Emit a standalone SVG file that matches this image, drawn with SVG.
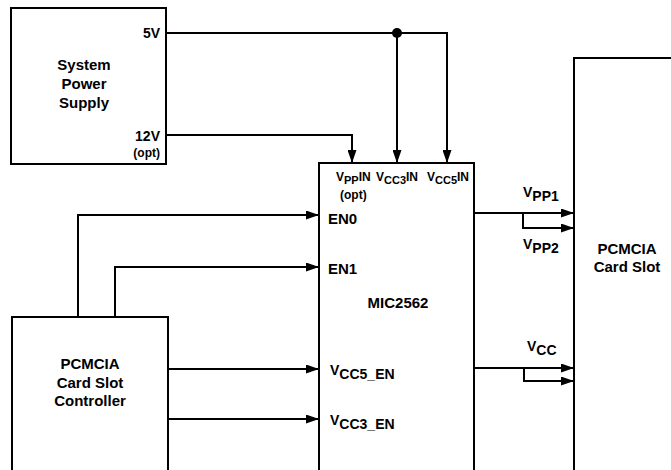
<svg xmlns="http://www.w3.org/2000/svg" width="671" height="470" viewBox="0 0 671 470">
<style>
.box{fill:#fff;stroke:#000;stroke-width:2}
.ln{fill:none;stroke:#000;stroke-width:2}
text{font-family:"Liberation Sans",Arial,sans-serif;font-weight:bold;fill:#000}
.big{font-size:15px}
.mid{font-size:14px}
.sm{font-size:12px}
.sub{font-size:11px}
</style>
<defs>
<marker id="ah" markerWidth="13" markerHeight="9" refX="13" refY="4.5" orient="auto" markerUnits="userSpaceOnUse">
<path d="M0,0 L13,4.5 L0,9 Z" fill="#000"/>
</marker>
</defs>
<rect width="671" height="470" fill="#fff"/>
<g id="power">
<rect class="box" x="11" y="8" width="155" height="156"/>
<text class="big" x="84" y="70" text-anchor="middle">System</text>
<text class="big" x="84" y="89" text-anchor="middle">Power</text>
<text class="big" x="84" y="108" text-anchor="middle">Supply</text>
<text class="mid" x="160" y="38" text-anchor="end">5V</text>
<text class="mid" x="160" y="141" text-anchor="end">12V</text>
<text class="sm" x="160" y="157" text-anchor="end">(opt)</text>
</g>
<g id="controller">
<rect class="box" x="12" y="317" width="156" height="160"/>
<text class="big" x="90" y="369" text-anchor="middle">PCMCIA</text>
<text class="big" x="90" y="388" text-anchor="middle">Card Slot</text>
<text class="big" x="90" y="406" text-anchor="middle">Controller</text>
</g>
<g id="mic2562">
<rect class="box" x="319" y="163" width="155" height="314"/>
<text class="sm" x="336" y="181">V<tspan class="sub" dy="3">PP</tspan><tspan dy="-3">IN</tspan></text>
<text class="sm" x="340" y="199">(opt)</text>
<text class="sm" x="376" y="181">V<tspan class="sub" dy="3">CC3</tspan><tspan dy="-3">IN</tspan></text>
<text class="sm" x="427" y="181">V<tspan class="sub" dy="3">CC5</tspan><tspan dy="-3">IN</tspan></text>
<text class="big" x="328" y="224">EN0</text>
<text class="big" x="328" y="274">EN1</text>
<text class="big" x="398" y="308" text-anchor="middle">MIC2562</text>
<text class="mid" x="330" y="375">V<tspan dy="4">CC5_EN</tspan></text>
<text class="mid" x="330" y="425">V<tspan dy="4">CC3_EN</tspan></text>
</g>
<g id="cardslot">
<path class="ln" d="M574,477 V58 H680"/>
<text class="big" x="627" y="254" text-anchor="middle">PCMCIA</text>
<text class="big" x="627" y="272" text-anchor="middle">Card Slot</text>
</g>
<g id="connectors">
<path class="ln" d="M166,33 H447 V163" marker-end="url(#ah)"/>
<path class="ln" d="M397,33 V163" marker-end="url(#ah)"/>
<circle cx="397" cy="33" r="5" fill="#000"/>
<path class="ln" d="M166,135 H352 V163" marker-end="url(#ah)"/>
<path class="ln" d="M78,317 V215 H319" marker-end="url(#ah)"/>
<path class="ln" d="M115,317 V267 H319" marker-end="url(#ah)"/>
<path class="ln" d="M168,369 H319" marker-end="url(#ah)"/>
<path class="ln" d="M168,419 H319" marker-end="url(#ah)"/>
<path class="ln" d="M474,213 H574" marker-end="url(#ah)"/>
<path class="ln" d="M523,213 V228 H574" marker-end="url(#ah)"/>
<path class="ln" d="M474,368 H574" marker-end="url(#ah)"/>
<path class="ln" d="M524,368 V381 H574" marker-end="url(#ah)"/>
<text class="mid" x="523" y="197">V<tspan dy="4">PP1</tspan></text>
<text class="mid" x="523" y="249">V<tspan dy="4">PP2</tspan></text>
<text class="mid" x="527" y="351">V<tspan dy="4">CC</tspan></text>
</g>
</svg>
